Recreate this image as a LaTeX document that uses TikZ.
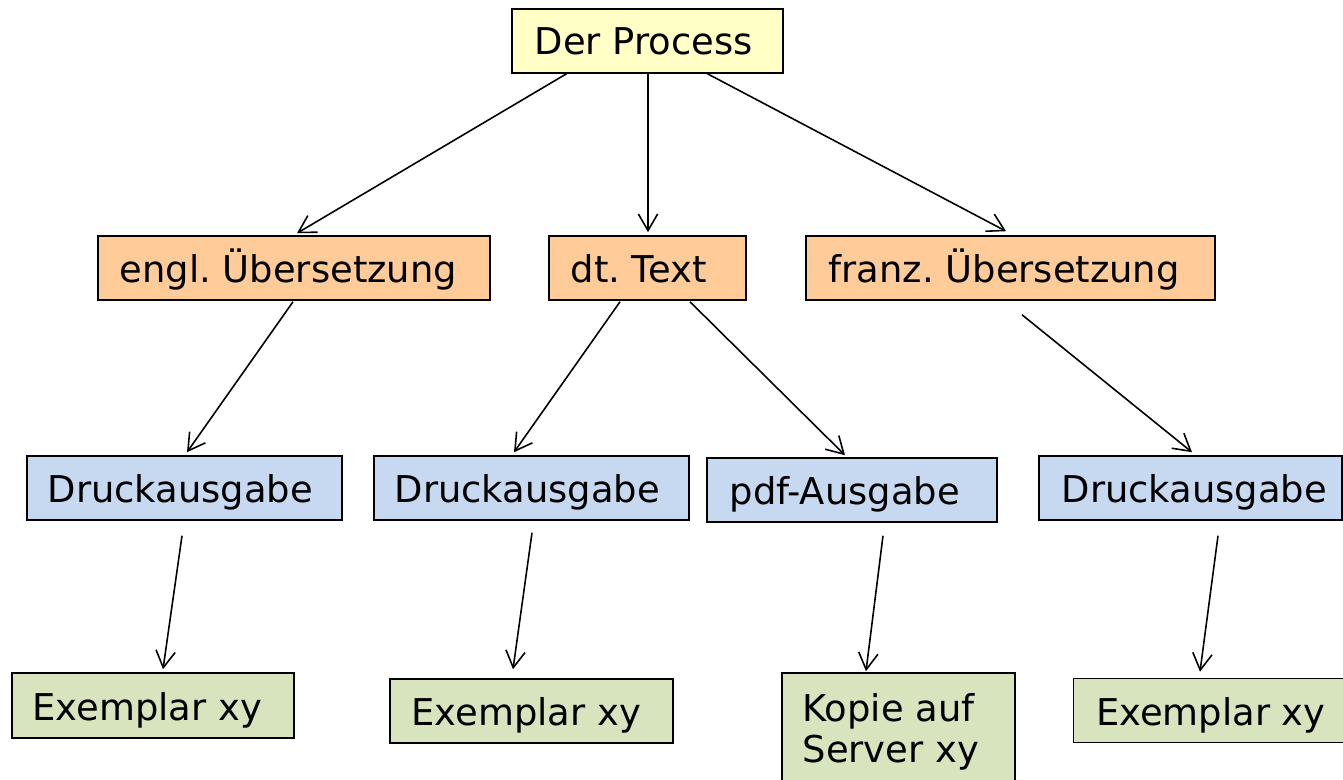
\documentclass[tikz,border=0pt]{standalone}
\usepackage{fontspec}
\setmainfont{DejaVu Sans}
\usetikzlibrary{arrows.meta,calc}
\definecolor{cyel}{HTML}{FFFFC6}
\definecolor{corg}{HTML}{FFCC99}
\definecolor{cblu}{HTML}{C6D9F1}
\definecolor{cgrn}{HTML}{D7E4BD}
\begin{document}
\begin{tikzpicture}[x=0.02cm,y=-0.02cm,
  box/.style={draw=black, line width=0.9pt, inner sep=0pt, minimum height=1.28cm},
  txt/.style={anchor=base west, inner sep=0pt, font=\fontsize{21}{23.2}\selectfont\frenchspacing},
  yel/.style={box, fill=cyel},
  org/.style={box, fill=corg},
  blu/.style={box, fill=cblu},
  grn/.style={box, fill=cgrn},
  arr/.style={-{Straight Barb[length=9.5pt,width=11pt]}, line width=0.9pt}]
\useasboundingbox (0,0) rectangle (1343,780);
% level 0
\node[yel, minimum width=5.42cm] (proc) at (647.5,41) {};
\node[txt] (proct) at ($(proc.west)+(23,14)$) {Der Process};
% level 1
\node[org, minimum width=7.84cm] (engl) at (294,268) {};
\node[txt] (englt) at ($(engl.west)+(22,14.5)$) {engl. Übersetzung};
\node[org, minimum width=3.94cm] (dt) at (647.5,268) {};
\node[txt] (dtt) at ($(dt.west)+(22,14.5)$) {dt. Text};
\node[org, minimum width=8.18cm] (franz) at (1010.5,268) {};
\node[txt] (franzt) at ($(franz.west)+(23,14.5)$) {franz. Übersetzung};
% level 2
\node[blu, minimum width=6.30cm] (d1) at (184.5,488) {};
\node[txt] (d1t) at ($(d1.west)+(21,15)$) {Druckausgabe};
\node[blu, minimum width=6.30cm] (d2) at (531.5,488) {};
\node[txt] (d2t) at ($(d2.west)+(21,15)$) {Druckausgabe};
\node[blu, minimum width=5.80cm] (pdf) at (852,490) {};
\node[txt] (pdft) at ($(pdf.west)+(23,15)$) {pdf-Ausgabe};
\node[blu, minimum width=6.06cm] (d3) at (1190.5,488) {};
\node[txt] (d3t) at ($(d3.west)+(23,15)$) {Druckausgabe};
% level 3
\node[grn, minimum width=5.64cm, minimum height=1.30cm] (e1) at (153,705.5) {};
\node[txt] (e1t) at ($(e1.west)+(21,14.5)$) {Exemplar xy};
\node[grn, minimum width=5.66cm] (e2) at (531.5,711) {};
\node[txt] (e2t) at ($(e2.west)+(22,14.5)$) {Exemplar xy};
\node[grn, minimum width=5.90cm] (e4) at (1221,710.5) {};
\node[txt] (e4t) at ($(e4.west)+(23,14.5)$) {Exemplar xy};
\node[grn, minimum width=4.66cm, minimum height=2.34cm] (kop) at (898.5,731.5) {};
\node[txt, anchor=north west, align=left] (kopt) at ($(kop.north west)+(21,21)$) {Kopie auf\\Server xy};
% connectors
\draw[arr] ($(proc.south)+(-81,0)$) -- ($(engl.north)+(3,-2)$);
\draw[arr] ($(proc.south)+(0.5,0)$) -- ($(dt.north)+(0.5,-3)$);
\draw[arr] ($(proc.south)+(60,0)$) -- ($(franz.north)+(-4.5,-4)$);
\draw[arr] ($(engl.south)+(-1,1)$) -- ($(d1.north)+(2.5,-3)$);
\draw[arr] ($(dt.south)+(-27.5,1)$) -- ($(d2.north)+(-17.5,-3)$);
\draw[arr] ($(dt.south)+(42.5,1)$) -- ($(pdf.north)+(-7,-2)$);
\draw[arr] ($(franz.south)+(11.5,14)$) -- ($(d3.north)+(1.5,-3)$);
\draw[arr] ($(d1.south)+(-2.5,15)$) -- ($(e1.north)+(10,-3)$);
\draw[arr] ($(d2.south)+(0.5,12)$) -- ($(e2.north)+(-18.5,-9)$);
\draw[arr] ($(pdf.south)+(31,13)$) -- ($(kop.north)+(-32.5,-1)$);
\draw[arr] ($(d3.south)+(27.5,15)$) -- ($(e4.north)+(-21,-6)$);
\end{tikzpicture}
\end{document}
